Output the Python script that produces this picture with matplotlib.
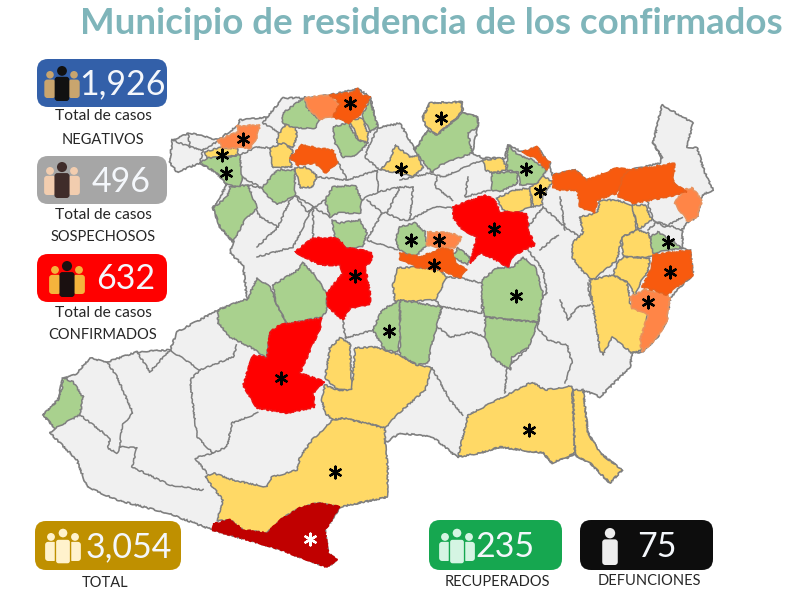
#!/usr/bin/env python3
"""Municipio de residencia de los confirmados - mapa por municipio."""

import matplotlib
matplotlib.use("Agg")
import matplotlib.pyplot as plt
from matplotlib.patches import Polygon, FancyBboxPatch, Circle

plt.rcParams['font.family'] = ['Lato', 'DejaVu Sans']

# Contorno del estado (coordenadas)
contorno = [(50,433),(77,460),(87,487),(117,500),(167,513),(213,530),(273,547),(327,567),(337,560),(328,553),(325,530),(340,507),(387,497),
            (385,443),(400,433),(433,437),(457,457),(480,453),(500,447),(543,453),(552,463),(575,455),(590,463),(610,483),
            (622,470),(600,453),(588,433),(583,390),(600,397),(630,367),(632,353),(642,352),(657,338),(667,320),(670,298),
            (680,287),(693,275),(690,250),(683,248),(682,230),(688,222),(697,217),(702,195),(713,190),(705,173),(697,148),
            (687,147),(693,123),(662,105),(653,143),(662,158),(660,163),(630,170),(587,180),(575,170),(552,175),(550,163),
            (537,147),(522,152),(508,145),(505,158),(483,158),(472,153),(478,127),(478,117),(463,113),(462,102),(430,103),
            (423,117),(428,130),(415,150),(400,123),(378,128),(370,97),(358,89),(330,95),(305,98),(283,98),(267,117),
            (240,120),(237,126),(218,140),(190,133),(172,140),(170,163),(177,172),(200,163),(217,173),(227,185),(213,208),
            (220,227),(233,242),(230,253),(243,265),(247,300),(218,310),(177,332),(170,350),(137,352),(107,362),(90,358),
            (75,375),(63,378),(58,400),(43,415),(55,428)]

# Limites de municipios sin caso (gris)
limites = [
    [(80,415),(110,438),(108,448),(117,453),(120,447),(137,448),(132,467),(170,485),(203,490)],
    [(107,362),(117,377),(133,413),(122,425),(120,447)],
    [(137,352),(150,372),(165,355),(170,350),(200,370),(233,357),(237,345)],
    [(200,370),(190,380),(197,437),(213,453),(195,458),(207,473)],
    [(213,453),(227,447),(232,423),(258,413)],
    [(257,247),(278,227),(260,217),(255,208)],
    [(278,227),(290,200),(295,195)],
    [(257,257),(293,247),(313,207),(295,195)],
    [(313,207),(313,240)],[(313,207),(330,217)],
    [(367,200),(382,213),(367,240),(397,250)],
    [(382,213),(387,213),(400,220)],
    [(338,162),(347,180),(377,170),(378,192),(367,197),(362,200)],
    [(317,177),(347,180)],
    [(295,195),(307,212),(325,200)],
    [(240,155),(257,147),(270,148)],
    [(262,188),(242,177)],[(248,185),(262,188)],
    [(400,180),(430,173),(443,177),(482,160)],
    [(413,187),(410,220),(433,207),(452,208)],
    [(437,177),(435,187),(453,200)],
    [(468,177),(465,197),(490,190)],
    [(378,192),(400,187),(413,187)],
    [(387,213),(400,187)],
    [(543,207),(565,227),(585,240)],
    [(560,197),(565,230)],
    [(528,227),(543,207)],
    [(540,250),(558,235)],
    [(528,250),(543,270),(547,293),(540,300),(538,328),(548,340),(567,345),(572,363),(565,383)],
    [(560,300),(568,320),(577,307),(590,305)],
    [(528,348),(507,368),(505,393)],
    [(433,323),(450,337),(472,332),(485,337)],
    [(432,368),(450,400),(463,415)],
    [(447,277),(460,278),(482,283)],
    [(435,300),(442,307),(437,322)],
    [(343,320),(345,338),(373,330)],
    [(378,128),(370,143),(365,157),(380,170)],
    [(267,117),(263,123),(280,133)],
    [(647,200),(653,220),(665,227),(682,217)],
    [(648,230),(657,222),(673,227),(682,230)],
    [(188,133),(190,147),(203,150),(220,140)],
    [(172,140),(190,147)],
    [(200,163),(203,150)],
    [(653,143),(662,158)],
    [(400,220),(410,220)],
    [(482,300),(482,313),(442,307)],
    [(588,283),(590,300)],
]

# Municipios por color
amarillo = [
    [(277,143),(278,135),(287,123),(295,123),(297,137),(293,148)],
    [(270,148),(283,143),(293,150),(290,160),(292,167),(273,168)],
    [(295,168),(305,167),(317,175),(313,187),(300,188)],
    [(205,152),(218,148),(238,148),(238,155),(227,157),(207,158)],
    [(350,120),(362,118),(368,133),(368,143),(358,140)],
    [(423,117),(430,103),(462,102),(462,112),(437,135),(425,125)],
    [(395,145),(410,157),(418,155),(423,168),(413,177),(400,173),(380,170),(390,160)],
    [(483,160),(503,158),(507,170),(492,173),(485,170)],
    [(497,198),(515,190),(530,188),(532,207),(513,213),(502,210)],
    [(540,173),(552,182),(543,197),(542,205),(533,207),(530,187),(538,183)],
    [(580,217),(597,213),(600,200),(617,200),(632,205),(637,230),(622,237),(617,260),(593,280),(583,272),(572,257),(573,242),(583,233)],
    [(632,205),(645,205),(652,220),(638,230)],
    [(622,237),(638,230),(648,233),(658,255),(650,257),(623,257)],
    [(617,263),(623,257),(650,258),(648,272),(640,283),(635,295),(627,282),(613,275)],
    [(590,280),(613,275),(627,282),(630,298),(630,303),(648,313),(642,350),(632,353),(612,337),(603,355),(600,350),(592,300)],
    [(397,268),(417,267),(440,270),(447,277),(435,300),(395,302),(393,285)],
    [(330,348),(340,338),(350,343),(352,390),(338,390),(325,378)],
    [(355,348),(377,347),(390,352),(400,355),(417,365),(432,368),(425,390),(400,412),(385,428),(373,425),(343,418),(333,420),(325,413),(322,400),(325,385),(338,390),(352,390)],
    [(205,477),(213,473),(233,480),(267,487),(272,477),(297,470),(300,457),(312,440),(333,420),(343,418),(373,425),(385,428),(385,443),(388,470),(387,497),(340,507),(317,503),(300,508),(283,518),(267,533),(243,530),(230,520),(217,521),(223,500)],
    [(458,457),(468,415),(503,397),(532,382),(545,390),(572,386),(575,453),(552,463),(543,453),(500,447),(480,453)],
    [(573,390),(583,390),(588,433),(600,453),(622,470),(610,483),(590,463),(575,455)],
]
verde = [
    [(283,113),(305,97),(307,108),(320,120),(315,128),(293,128),(282,122)],
    [(362,115),(370,100),(378,127),(370,132)],
    [(333,127),(348,123),(358,140),(368,143),(357,155),(343,157),(335,143)],
    [(415,150),(428,130),(437,135),(463,113),(478,117),(478,127),(468,133),(472,153),(440,165),(432,173),(418,155)],
    [(262,188),(277,170),(295,170),(295,195),(277,205),(265,193)],
    [(200,163),(207,158),(227,157),(240,155),(242,177),(240,187),(227,185),(217,173)],
    [(213,208),(227,197),(230,187),(248,185),(257,208),(245,220),(233,242),(220,227)],
    [(325,200),(333,187),(355,185),(362,200),(360,213),(338,213),(330,217)],
    [(332,220),(340,223),(360,220),(367,233),(363,247),(347,248),(335,238)],
    [(508,145),(518,155),(533,160),(547,170),(538,183),(520,185),(518,172),(507,170),(507,160)],
    [(492,173),(517,172),(518,183),(500,192),(492,190)],
    [(400,227),(415,223),(425,232),(427,245),(415,257),(400,250),(395,240)],
    [(452,257),(458,248),(470,257),(468,265)],
    [(650,237),(658,232),(670,240),(683,248),(653,253)],
    [(482,280),(497,268),(513,267),(523,257),(535,267),(543,293),(538,322),(513,320),(485,317),(482,300)],
    [(485,317),(513,320),(538,322),(528,348),(512,357),(510,370),(493,358),(485,337)],
    [(218,310),(243,300),(247,300),(257,278),(270,287),(275,300),(287,325),(270,332),(267,358),(250,347),(230,337),(218,323)],
    [(273,285),(298,270),(302,262),(315,275),(327,295),(327,310),(322,317),(293,323),(287,325),(275,300)],
    [(63,378),(73,382),(83,397),(80,415),(55,428),(43,415),(58,400),(62,388)],
    [(373,330),(382,310),(400,300),(400,340),(398,352),(385,350)],
    [(400,300),(442,307),(432,343),(428,363),(417,365),(400,355),(400,340)],
]
naranja = [
    [(305,98),(330,95),(340,105),(333,117),(320,119),(307,107)],
    [(218,140),(238,132),(237,126),(260,125),(257,137),(250,148),(222,148)],
    [(427,232),(450,233),(462,237),(455,248),(443,248),(427,245)],
    [(683,190),(692,188),(702,200),(697,217),(688,222),(678,208),(675,203)],
    [(630,297),(645,290),(663,293),(670,298),(667,320),(657,338),(642,352),(640,340),(648,315),(632,308)],
]
naranja_fuerte = [
    [(330,95),(350,93),(358,89),(362,95),(370,97),(362,113),(348,123),(333,117),(340,103)],
    [(290,158),(302,145),(317,148),(333,150),(338,162),(325,173),(315,163),(298,165)],
    [(522,152),(537,147),(543,157),(550,162),(547,170),(535,158)],
    [(553,175),(575,170),(587,180),(617,168),(630,170),(617,193),(597,200),(595,213),(580,207),(577,190),(560,190),(553,187)],
    [(630,170),(653,167),(675,163),(673,183),(687,192),(667,197),(633,203),(618,197),(622,177)],
    [(400,253),(420,257),(443,248),(453,250),(455,263),(467,270),(460,278),(440,270),(417,267),(400,260)],
    [(653,255),(690,250),(693,275),(682,283),(667,295),(653,290),(642,287),(650,272)],
]
rojo = [
    [(453,207),(485,195),(495,200),(500,212),(527,213),(528,230),(535,245),(523,250),(513,257),(508,267),(490,257),(480,253),(470,263),(477,237),(463,230),(453,217)],
    [(295,252),(313,238),(337,238),(347,248),(372,252),(372,260),(365,267),(370,293),(370,305),(350,308),(343,320),(328,307),(327,293),(343,273),(340,265),(320,265)],
    [(270,332),(280,325),(322,318),(320,328),(300,373),(325,382),(313,393),(315,407),(287,413),(257,408),(243,385),(253,355),(267,358)],
]
rojo_oscuro = [
    [(213,524),(230,520),(243,530),(267,533),(283,518),(300,508),(317,503),(340,507),(325,530),(328,553),(337,560),(327,567),(273,547),(213,530)],
]

# Asteriscos
asteriscos_x = [350,243,222,226,441,401,526,540,411,439,434,494,355,516,389,281,335,529,668,670,648]
asteriscos_y = [103,139,155,173,118,169,169,191,240,240,265,229,276,296,331,378,472,430,242,272,302]
asterisco_claro_x = [310]
asterisco_claro_y = [539]

# Tarjetas
valores = ['1,926', '496', '632', '3,054', '235', '75']
titulo = 'Municipio de residencia de los confirmados'


def tarjeta(ax, x0, x1, y0, y1, color):
    ax.add_patch(FancyBboxPatch((x0 + 11, y0 + 11), x1 - x0 - 22, y1 - y0 - 22,
                                boxstyle="round,pad=11,rounding_size=11",
                                facecolor=color, edgecolor='none', zorder=5))


def persona(ax, cx, top, alto, color, orilla='none'):
    r = alto * 0.14
    ax.add_patch(Circle((cx, top + r), r, facecolor=color, edgecolor=orilla, linewidth=1, zorder=6))
    ancho = alto * 0.42
    ax.add_patch(FancyBboxPatch((cx - ancho / 2 + 2, top + 2 * r + 3), ancho - 4, alto - 2 * r - 5,
                                boxstyle="round,pad=2,rounding_size=3",
                                facecolor=color, edgecolor=orilla, linewidth=1, zorder=6))


def grupo(ax, cx, top, alto, color_lado, color_centro, orilla='none'):
    persona(ax, cx - 12, top + 5, alto - 8, color_lado)
    persona(ax, cx + 12, top + 5, alto - 8, color_lado)
    persona(ax, cx, top, alto, color_centro, orilla)


fig = plt.figure(figsize=(8, 6), dpi=100)
ax = fig.add_axes([0, 0, 1, 1])
ax.set_xlim(0, 800)
ax.set_ylim(600, 0)
ax.axis('off')

borde = '#7F7F7F'
base = Polygon(contorno, closed=True, facecolor='#F0F0F0', edgecolor=borde, linewidth=1.2, zorder=1)
base.set_sketch_params(0.7, 7, 14)
ax.add_patch(base)
for linea in limites:
    l, = ax.plot([p[0] for p in linea], [p[1] for p in linea], color=borde, linewidth=1.1, zorder=1.5)
    l.set_sketch_params(0.7, 7, 14)

for grupo_mun, color, ec in [(amarillo, '#FFD966', borde), (verde, '#A9D18E', borde), (naranja, '#FF8547', '#E8935F'),
                             (naranja_fuerte, '#F85A0E', '#E8601C'), (rojo, '#FF0000', '#F01010'),
                             (rojo_oscuro, '#C00000', '#C00000')]:
    for poli in grupo_mun:
        p = Polygon(poli, closed=True, facecolor=color, edgecolor=ec, linewidth=1.1, zorder=2)
        p.set_sketch_params(0.7, 7, 14)
        ax.add_patch(p)

ax.scatter(asteriscos_x, asteriscos_y, marker=(6, 2, 0), s=70, c='black', linewidths=1.7, zorder=4)
ax.scatter(asterisco_claro_x, asterisco_claro_y, marker=(6, 2, 0), s=70, c='white', linewidths=1.7, zorder=4)

ax.text(431.5, 23, titulo, fontsize=26.4, fontweight='bold', color='#7FB5BA', ha='center', va='center')

tarjeta(ax, 37, 167, 59, 107, '#3360A9')
tarjeta(ax, 37, 167, 156, 204, '#A6A6A6')
tarjeta(ax, 37, 167, 254, 302, '#FF0000')
tarjeta(ax, 35, 181, 521, 570, '#BF9000')
tarjeta(ax, 429, 562, 520, 570, '#16A750')
tarjeta(ax, 580, 713, 520, 570, '#0D0D0D')

grupo(ax, 62, 66, 35, '#C9A56E', '#111111')
grupo(ax, 62, 162, 36, '#F2CDAF', '#3F2C2A')
grupo(ax, 67, 261, 36, '#F5B43C', '#1A1010')
grupo(ax, 63, 528, 36, '#FFF2CC', '#FFF2CC', '#BF9000')
grupo(ax, 457, 528, 36, '#D5F5E3', '#D5F5E3', '#16A750')
persona(ax, 610, 528, 37, '#EDEDED')

color_num = '#F4F7FB'
for txt, x, y in zip(valores, [122.5, 121, 126, 128.5, 505, 657], [84, 182, 279, 547, 547, 547]):
    ax.text(x, y, txt, fontsize=24.5, color=color_num, ha='center', va='center', zorder=7)

for txt, x, y in [('NEGATIVOS', 103, 140), ('SOSPECHOSOS', 103, 237), ('CONFIRMADOS', 103, 335),
                  ('TOTAL', 105, 583), ('RECUPERADOS', 497, 582), ('DEFUNCIONES', 649, 581)]:
    ax.text(x, y, txt, fontsize=10.5, color='#262626', ha='center', va='center', zorder=7)
for y in [116, 215, 313]:
    ax.text(103, y, 'Total de casos', fontsize=11.2, color='#262626', ha='center', va='center', zorder=7)

fig.savefig('out.png', dpi=100)
